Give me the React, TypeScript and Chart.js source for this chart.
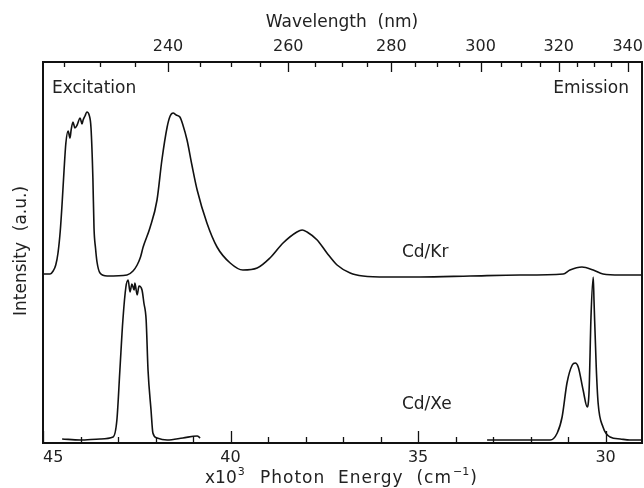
import React, { useEffect, useRef } from 'react';
import { Chart, registerables } from 'chart.js';

Chart.register(...registerables);

// Photon energy in units of 10^3 cm^-1, intensity in arbitrary units
const krEnergy = [45.0, 44.81, 44.73, 44.66, 44.6, 44.54, 44.49, 44.44, 44.39, 44.33, 44.28, 44.25, 44.2, 44.15, 44.09, 44.01, 43.96, 43.93, 43.88, 43.83, 43.77, 43.72, 43.67, 43.64, 43.6, 43.56, 43.48, 43.29, 42.76, 42.6, 42.49, 42.4, 42.33, 42.15, 41.96, 41.83, 41.69, 41.61, 41.53, 41.45, 41.35, 41.27, 41.16, 41.03, 40.89, 40.63, 40.36, 40.01, 39.67, 39.29, 38.95, 38.6, 38.23, 38.09, 37.96, 37.69, 37.43, 37.16, 36.81, 36.47, 35.83, 34.95, 33.61, 32.28, 31.13, 30.95, 30.63, 30.33, 30.07, 29.61, 29.03];
const krIntensity = [169, 169, 172, 178, 190, 212, 240, 272, 300, 312, 305, 313, 321, 315, 318, 325, 319, 323, 327, 331, 328, 315, 265, 215, 195, 181, 170, 167, 168, 172, 178, 186, 196, 215, 243, 283, 316, 327, 330, 328, 326, 318, 303, 278, 253, 220, 196, 180, 173, 175, 185, 200, 211, 213, 211, 203, 190, 178, 170, 167, 166, 166, 167, 168, 169, 173, 176, 173, 169, 168, 168];

const xeEnergy = [44.49, 44.01, 43.48, 43.13, 43.03, 42.95, 42.87, 42.79, 42.73, 42.68, 42.63, 42.57, 42.55, 42.49, 42.44, 42.36, 42.31, 42.25, 42.2, 42.12, 42.07, 41.96, 41.69, 41.27, 40.89, 40.81, 37.0, 33.16, 32.28, 31.48, 31.29, 31.16, 31.03, 30.89, 30.81, 30.73, 30.6, 30.49, 30.44, 30.39, 30.33, 30.31, 30.25, 30.2, 30.07, 29.88, 29.61, 29.35, 29.03];
const xeIntensity = [4, 3, 4, 6, 23, 73, 123, 156, 163, 151, 159, 153, 160, 148, 157, 153, 140, 123, 73, 33, 10, 5, 3, 5, 7, 5, null, 3, 3, 3, 10, 26, 60, 78, 80, 76, 53, 36, 53, 126, 166, 143, 76, 40, 16, 6, 4, 3, 3];

const energyTicks = [45, 44, 43, 42, 41, 40, 39, 38, 37, 36, 35, 34, 33, 32, 31, 30];
const energyMajor = [45, 40, 35, 30];
const wavelengthTicks = [225, 230, 235, 240, 245, 250, 255, 260, 265, 270, 275, 280, 285, 290, 295, 300, 305, 310, 315, 320, 325, 330, 335, 340];
const wavelengthMajor = [240, 260, 280, 300, 320, 340];

const FONT = '"DejaVu Sans", "Liberation Sans", sans-serif';

const framePlugin = {
  id: 'frame',
  afterDraw(chart: any) {
    const { ctx, chartArea: a, scales } = chart;
    const x = scales.x;
    const y = scales.y;
    ctx.save();
    ctx.strokeStyle = '#111';
    ctx.lineWidth = 2;
    ctx.strokeRect(a.left, a.top, a.right - a.left, a.bottom - a.top);

    ctx.lineWidth = 1.3;
    ctx.beginPath();
    energyTicks.forEach((e) => {
      const px = Math.round(x.getPixelForValue(e)) + 0.5;
      const len = energyMajor.includes(e) ? 12 : 6;
      ctx.moveTo(px, a.bottom);
      ctx.lineTo(px, a.bottom - len);
    });
    wavelengthTicks.forEach((w) => {
      const px = Math.round(x.getPixelForValue(1e4 / w)) + 0.5;
      const len = wavelengthMajor.includes(w) ? 10 : 5;
      ctx.moveTo(px, a.top);
      ctx.lineTo(px, a.top + len);
    });
    ctx.stroke();

    ctx.fillStyle = '#222';
    ctx.font = `16px ${FONT}`;
    ctx.textBaseline = 'middle';

    energyMajor.forEach((e) => {
      const px = x.getPixelForValue(e);
      if (e === 45) {
        ctx.textAlign = 'left';
        ctx.fillText(String(e), a.left, a.bottom + 15);
      } else {
        ctx.textAlign = 'center';
        ctx.fillText(String(e), px, a.bottom + 15);
      }
    });
    ctx.textAlign = 'center';
    wavelengthMajor.forEach((w) => {
      ctx.fillText(String(w), x.getPixelForValue(1e4 / w), a.top - 15);
    });
    const big = `17px ${FONT}`;
    const small = `11px ${FONT}`;
    ctx.font = big;
    ctx.fillText('Wavelength  (nm)', 342, a.top - 39);

    // bottom title with superscripts
    const ty = a.bottom + 36;
    let cx = 205;
    ctx.textAlign = 'left';
    ctx.font = big;
    ctx.fillText('x10', cx, ty);
    cx += ctx.measureText('x10').width + 1;
    ctx.font = small;
    ctx.fillText('3', cx, ty - 7);
    cx = 260;
    ctx.font = big;
    (ctx as any).letterSpacing = '1px';
    const part = 'Photon  Energy  (cm';
    ctx.fillText(part, cx, ty);
    cx += ctx.measureText(part).width + 1;
    (ctx as any).letterSpacing = '0px';
    ctx.font = small;
    ctx.fillText('\u22121', cx, ty - 7);
    cx += ctx.measureText('\u22121').width + 1;
    ctx.font = big;
    ctx.fillText(')', cx, ty);

    // y title
    ctx.save();
    ctx.translate(22, 251);
    ctx.rotate(-Math.PI / 2);
    ctx.textAlign = 'center';
    ctx.fillText('Intensity  (a.u.)', 0, 0);
    ctx.restore();

    // annotations
    ctx.textAlign = 'left';
    ctx.fillText('Excitation', a.left + 9, a.top + 27);
    ctx.textAlign = 'right';
    ctx.fillText('Emission', a.right - 13, a.top + 27);
    ctx.textAlign = 'left';
    ctx.fillText('Cd/Kr', x.getPixelForValue(35.43), y.getPixelForValue(190));
    ctx.fillText('Cd/Xe', x.getPixelForValue(35.43), y.getPixelForValue(38));
    ctx.restore();
  },
};

export default function App() {
  const ref = useRef<HTMLCanvasElement | null>(null);
  useEffect(() => {
    if (!ref.current) return;
    const chart = new Chart(ref.current, {
      type: 'line',
      data: {
        datasets: [
          {
            label: 'Cd/Kr',
            data: krEnergy.map((e, i) => ({ x: e, y: krIntensity[i] })),
            borderColor: '#111',
            borderWidth: 1.6,
            pointRadius: 0,
            cubicInterpolationMode: 'monotone',
          },
          {
            label: 'Cd/Xe',
            data: xeEnergy.map((e, i) => ({ x: e, y: xeIntensity[i] })) as any,
            borderColor: '#111',
            borderWidth: 1.6,
            pointRadius: 0,
            cubicInterpolationMode: 'monotone',
            spanGaps: false,
          },
        ],
      },
      options: {
        animation: false,
        responsive: false,
        maintainAspectRatio: false,
        layout: { padding: { left: 43, right: 2, top: 62, bottom: 45 } },
        plugins: { legend: { display: false }, tooltip: { enabled: false } },
        scales: {
          x: { type: 'linear', reverse: true, min: 29.03, max: 45, display: false },
          y: { type: 'linear', min: 0, max: 381, display: false },
        },
      },
      plugins: [framePlugin],
    });
    return () => chart.destroy();
  }, []);
  return (
    <div style={{ position: 'fixed', left: 0, top: 0, width: 644, height: 488, background: '#fff' }}>
      <canvas ref={ref} width={644} height={488} style={{ width: 644, height: 488 }} />
    </div>
  );
}
